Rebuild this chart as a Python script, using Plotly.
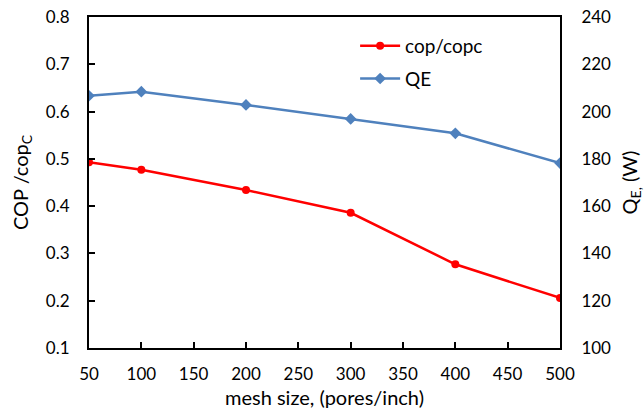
import plotly.graph_objects as go

mesh = [50, 100, 200, 300, 400, 500]
cop_ratio = [0.493, 0.477, 0.434, 0.386, 0.277, 0.206]
qe = [206.7, 208.4, 202.8, 196.9, 190.8, 178.2]

FONT = "Lato"
fig = go.Figure()
fig.add_trace(go.Scatter(x=mesh, y=cop_ratio, name="cop/copc", mode="lines+markers",
                         legendgroup="a",
                         line=dict(color="#FF0000", width=2.5),
                         marker=dict(symbol="circle", size=8, color="#FF0000")))
fig.add_trace(go.Scatter(x=mesh, y=qe, name="QE", mode="lines+markers", yaxis="y2",
                         legendgroup="b",
                         line=dict(color="#4F81BD", width=2.5),
                         marker=dict(symbol="diamond", size=9, color="#4F81BD")))

fig.update_layout(
    width=644, height=414,
    margin=dict(l=89, r=84, t=17, b=66),
    paper_bgcolor="white", plot_bgcolor="white",
    font=dict(family=FONT, size=17, color="black"),
    showlegend=True,
    legend=dict(x=0.565, y=0.97, xanchor="left", yanchor="top",
                bgcolor="rgba(0,0,0,0)", font=dict(size=19), itemwidth=40,
                traceorder="grouped", tracegroupgap=5),
    xaxis=dict(range=[50, 500], tickvals=[50, 100, 150, 200, 250, 300, 350, 400, 450, 500],
               showline=True, linecolor="black", linewidth=2, mirror=True,
               ticks="inside", ticklen=6, tickcolor="black", tickwidth=2,
               ticklabelstandoff=10, automargin=False,
               showgrid=False, zeroline=False,
               title=dict(text="mesh size, (pores/inch)", standoff=8)),
    yaxis=dict(range=[0.1, 0.8], dtick=0.1, tickformat=".1f",
               showline=True, linecolor="black", linewidth=2,
               ticks="inside", ticklen=6, tickcolor="black", tickwidth=2,
               ticklabelstandoff=14, automargin=False,
               showgrid=False, zeroline=False,
               title=dict(text="COP /cop<sub>C</sub>", standoff=12)),
    yaxis2=dict(range=[100, 240], dtick=20, overlaying="y", side="right",
                showline=True, linecolor="black", linewidth=2,
                ticks="", showgrid=False, zeroline=False,
                ticklabelstandoff=16, automargin=False,
                title=dict(text="Q<sub>E,</sub> (W)", standoff=14)),
)
fig.write_html("out.html")
